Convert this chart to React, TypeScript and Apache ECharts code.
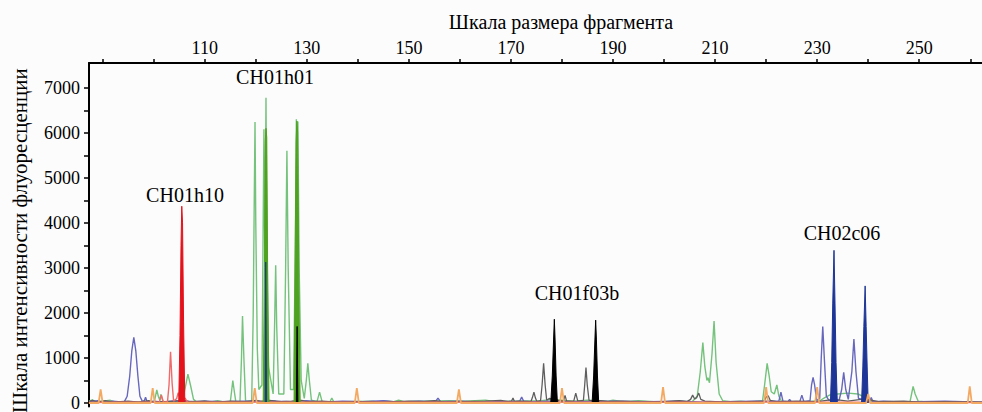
import React, { useEffect, useRef } from "react";
import * as echarts from "echarts";

type P = [number, number];

const xLabelValues = [110, 130, 150, 170, 190, 210, 230, 250];
const xTickValues = [90, 100, 110, 120, 130, 140, 150, 160, 170, 180, 190, 200, 210, 220, 230, 240, 250, 260];
const yLabelValues = [0, 1000, 2000, 3000, 4000, 5000, 6000, 7000];
const yTickValues = [0, 500, 1000, 1500, 2000, 2500, 3000, 3500, 4000, 4500, 5000, 5500, 6000, 6500, 7000];

const markerLabels = ["CH01h10", "CH01h01", "CH01f03b", "CH02c06"];

const greenTrace: P[] = [
  [87.3, 40], [88, 70], [88.6, 20], [90, 40], [91.5, 60], [92.5, 20], [94, 30], [99, 30],
  [100.1, 20], [100.4, 180], [100.6, 290], [100.9, 150], [101.2, 60], [101.4, 190], [101.8, 40],
  [102.5, 20], [104, 30], [105.6, 40], [106.2, 350], [106.7, 640], [107.2, 400], [107.8, 80], [108.4, 20],
  [110, 40], [111, 20], [112.5, 50], [113.5, 30],
  [115.0, 20], [115.3, 300], [115.5, 500], [115.8, 250], [116.1, 20],
  [116.9, 20], [117.2, 1000], [117.4, 1930], [117.7, 900], [118.0, 40],
  [119.2, 40], [119.5, 2000], [119.7, 4500], [119.85, 6240], [120.0, 4000], [120.3, 1200], [120.6, 300],
  [121.2, 400], [121.45, 4000], [121.6, 6080], [121.75, 3500], [121.9, 5000], [122.0, 6780], [122.15, 4000], [122.5, 800],
  [123.4, 200], [123.7, 1800], [123.9, 3060], [124.1, 1700], [124.5, 200],
  [125.5, 200], [125.85, 3000], [126.1, 5600], [126.35, 3000], [126.8, 300],
  [127.4, 300], [127.75, 3500], [127.95, 6300], [128.1, 5600], [128.25, 6250], [128.5, 3000], [128.9, 500],
  [129.5, 100], [129.9, 500], [130.2, 880], [130.5, 500], [130.9, 60],
  [132.0, 30], [132.5, 240], [133.0, 30], [134.5, 20], [134.9, 110], [135.3, 20],
  [137, 30], [143, 40], [144, 20], [145, 50], [147, 30], [148, 60], [149, 30], [152, 40], [158, 50],
  [161, 40], [165, 60], [167, 30], [170, 40], [176, 50], [178, 80], [180, 60], [182, 40], [185, 60],
  [189, 40], [190, 60], [192, 30], [195, 50], [198, 30], [200, 20], [203, 40],
  [205.5, 30], [206.5, 150], [207.1, 700], [207.6, 1340], [208.0, 800], [208.4, 500], [208.6, 560], [208.9, 450],
  [209.4, 1100], [209.8, 1820], [210.2, 900], [210.8, 200], [211.5, 50],
  [213, 30], [215, 40], [217, 20],
  [219.3, 50], [219.7, 400], [220.2, 880], [220.6, 600], [221.0, 250], [221.6, 200], [222.1, 400], [222.5, 150], [223, 40],
  [225, 20], [228, 30], [230.5, 50], [231.5, 120], [232.5, 180], [234, 200], [236, 220], [238, 200], [239.5, 120], [240.5, 40],
  [243, 20], [246, 30], [248.2, 30], [248.5, 200], [248.8, 370], [249.2, 200], [249.8, 40],
  [252, 20], [256, 30], [262.3, 20],
];

const greenFilled: P[][] = [
  [[121.45, 0], [121.7, 3000], [121.85, 5800], [122.0, 6100], [122.15, 5900], [122.35, 2500], [122.6, 0]],
  [[127.5, 0], [127.7, 3000], [127.9, 5800], [128.05, 6260], [128.2, 6000], [128.45, 2500], [128.7, 0]],
];

const redTrace: P[] = [
  [87.3, 10], [95, 20], [101.1, 20], [101.5, 180], [101.9, 20], [102.7, 30], [103.0, 400], [103.3, 1140],
  [103.6, 450], [103.9, 40], [104.5, 100], [104.8, 230], [105.0, 150], [106.2, 100], [106.6, 20], [115, 20],
  [121.8, 20], [121.95, 2000], [122.1, 20], [127.9, 20], [128.1, 620], [128.3, 20], [140, 20],
  [178.2, 20], [178.5, 290], [178.8, 20], [186.3, 20], [186.6, 290], [186.9, 20], [200, 20],
  [239.3, 20], [239.6, 350], [239.9, 20], [262.3, 10],
];

const redFilled: P[][] = [
  [[104.9, 0], [105.15, 1500], [105.35, 3500], [105.5, 4370], [105.65, 4000], [105.85, 1800], [106.1, 0]],
];

const blackTrace: P[] = [
  [87.3, 30], [88, 60], [89, 20], [90.5, 50], [92, 20], [95, 40], [97, 20], [99, 50], [100, 20], [104, 40],
  [106, 60], [107, 30], [110, 40], [112, 20], [115, 40], [118, 30], [120, 60], [121, 40], [123, 50], [125, 30],
  [127, 40], [129, 60], [130, 30], [133, 40], [136, 20], [140, 30], [145, 20], [150, 40], [153, 30], [155, 50],
  [157, 20], [160, 30], [165, 40], [168, 60], [169.5, 30], [170.1, 40], [170.4, 110], [170.7, 30], [171.5, 40],
  [173.9, 30], [174.2, 120], [174.5, 240], [174.8, 110], [175.1, 30], [175.8, 50], [176.1, 400], [176.4, 880],
  [176.7, 400], [177.0, 60], [177.5, 100], [179.3, 60], [180.3, 40], [180.6, 170], [180.9, 40], [182.3, 40],
  [182.7, 220], [183.1, 40], [184.2, 60], [184.45, 400], [184.7, 790], [184.95, 400], [185.3, 60],
  [187.6, 50], [189, 30], [192, 40], [195, 20], [200, 30], [203, 50], [204.5, 30], [205.2, 80], [205.6, 175],
  [206.0, 90], [206.4, 120], [206.8, 220], [207.2, 80], [208, 40], [212, 20], [216, 30], [219.6, 40],
  [220.0, 130], [220.4, 160], [220.8, 60], [222, 30], [226, 40], [230, 30], [233.3, 80], [236, 40],
  [239.4, 90], [242, 30], [247, 40], [250, 20], [255, 30], [262.3, 20],
];

const blackFilled: P[][] = [
  [[127.95, 0], [128.1, 1700], [128.25, 0]],
  [[177.8, 0], [178.1, 600], [178.35, 1400], [178.5, 1860], [178.65, 1400], [178.85, 600], [179.1, 0]],
  [[185.9, 0], [186.2, 600], [186.45, 1400], [186.6, 1840], [186.75, 1400], [186.95, 600], [187.2, 0]],
];

const blueTrace: P[] = [
  [87.3, 30], [89, 50], [90, 20], [92, 40], [94.2, 20], [94.8, 150], [95.3, 600], [95.7, 1150], [96.1, 1460],
  [96.5, 1150], [96.9, 600], [97.3, 150], [97.8, 30], [98.2, 60], [98.4, 130], [98.7, 30], [100, 40],
  [102, 20], [104, 50], [108, 30], [110, 40], [114, 30], [118, 40], [121.5, 30], [122.3, 60], [124, 40],
  [127, 30], [130, 50], [133, 20], [137, 40], [141, 30], [145, 50], [148, 20], [152, 40], [155.2, 30],
  [155.7, 110], [156.2, 30], [160, 40], [164, 20], [168, 30], [171.7, 40], [172.1, 130], [172.5, 40],
  [174, 30], [178, 40], [182, 30], [190, 40], [197, 30], [203, 40], [208, 20], [212, 30], [218, 40],
  [222.5, 40], [222.9, 240], [223.3, 40], [224.3, 30], [224.6, 80], [224.9, 30], [226.6, 30], [227.0, 175],
  [227.4, 30], [228.6, 50], [228.9, 400], [229.2, 570], [229.5, 400], [229.9, 60], [230.5, 100], [230.8, 1000],
  [231.1, 1700], [231.4, 1000], [231.8, 150], [232.3, 60], [234.3, 60], [234.8, 300], [235.2, 680],
  [235.6, 300], [236.1, 80], [236.8, 700], [237.2, 1420], [237.6, 700], [238.1, 100], [240.3, 40],
  [240.6, 120], [240.9, 30], [243, 40], [247, 20], [250, 30], [255, 40], [262.3, 20],
];

const blueFilled: P[][] = [
  [[121.85, 0], [121.95, 3130], [122.1, 0]],
  [[232.6, 0], [232.85, 900], [233.05, 2200], [233.3, 3390], [233.5, 2200], [233.7, 900], [233.95, 0]],
  [[238.7, 0], [238.95, 800], [239.15, 1700], [239.4, 2600], [239.6, 1700], [239.8, 800], [240.0, 0]],
];

const orangeTrace: P[] = [
  [87.3, 0], [89.2, 0], [89.6, 300], [90.0, 0], [99.4, 0], [99.8, 330], [100.2, 0], [119.4, 0], [119.8, 330],
  [120.2, 0], [139.4, 0], [139.8, 330], [140.2, 0], [159.4, 0], [159.8, 300], [160.2, 0], [179.6, 0],
  [180.0, 330], [180.4, 0], [199.4, 0], [199.8, 350], [200.2, 0], [219.6, 0], [220.0, 350], [220.4, 0],
  [229.6, 0], [230.0, 350], [230.4, 0], [239.6, 0], [240.0, 200], [240.4, 0], [259.5, 0], [259.9, 370],
  [260.3, 0], [262.3, 0],
];

const SERIF = "Liberation Serif";

function lineSeries(data: P[], color: string, width: number, z: number) {
  return { type: "line", data, symbol: "none", z, lineStyle: { color, width }, silent: true };
}

function filledSeries(peaks: P[][], color: string, z: number) {
  return peaks.map((d) => ({
    type: "line",
    data: d,
    symbol: "none",
    z,
    lineStyle: { color, width: 1 },
    areaStyle: { color, opacity: 1, origin: 0 },
    silent: true,
  }));
}

function centeredText(text: string, x: number, y: number, size: number) {
  return {
    type: "text",
    x,
    y,
    style: { text, fontFamily: SERIF, fontSize: size, fill: "#000", align: "center", verticalAlign: "middle" },
  };
}

export default function App() {
  const ref = useRef<HTMLDivElement>(null);
  useEffect(() => {
    if (!ref.current) return;
    const chart = echarts.init(ref.current, undefined, { renderer: "svg" });
    const labelFont = { fontFamily: SERIF, fontSize: 18, color: "#000" };
    const option: any = {
      animation: false,
      grid: { left: 89, top: 63, right: 0, bottom: 0, containLabel: false },
      xAxis: {
        type: "value",
        position: "top",
        min: 87.32,
        max: 262.3,
        axisLine: { show: true, onZero: false, lineStyle: { color: "#000", width: 2 } },
        axisTick: { show: true, inside: false, length: 4, customValues: xTickValues, lineStyle: { color: "#000", width: 1.5 } },
        axisLabel: { show: true, customValues: xLabelValues, margin: 6, formatter: (v: number) => String(v), ...labelFont },
        splitLine: { show: false },
      },
      yAxis: {
        type: "value",
        min: -80,
        max: 7550,
        axisLine: { show: true, onZero: false, lineStyle: { color: "#000", width: 2 } },
        axisTick: { show: true, inside: false, length: 5, customValues: yTickValues, lineStyle: { color: "#000", width: 1.5 } },
        axisLabel: { show: true, customValues: yLabelValues, margin: 9, formatter: (v: number) => String(v), ...labelFont },
        splitLine: { show: false },
      },
      graphic: [
        centeredText("Шкала размера фрагмента", 561, 22, 20),
        {
          type: "text",
          x: 9,
          y: 413,
          rotation: Math.PI / 2,
          style: { text: "Шкала интенсивности флуоресценции", fontFamily: SERIF, fontSize: 21, fill: "#000" },
        },
        centeredText(markerLabels[0], 185, 195, 20),
        centeredText(markerLabels[1], 275, 77, 20),
        centeredText(markerLabels[2], 577, 293, 20),
        centeredText(markerLabels[3], 842, 233, 20),
      ],
      series: [
        lineSeries(greenTrace, "#74c27c", 1.4, 2),
        lineSeries(blueTrace, "#6767be", 1.4, 3),
        lineSeries(blackTrace, "#5e5e5e", 1.3, 3),
        lineSeries(redTrace, "#ee6b6b", 1.4, 4),
        ...filledSeries(greenFilled, "#4fa21f", 5),
        ...filledSeries(redFilled, "#e3121b", 5),
        ...filledSeries(blackFilled, "#000000", 6),
        ...filledSeries(blueFilled, "#1d3596", 6),
        lineSeries(orangeTrace, "#f3a962", 1.8, 7),
      ],
    };
    chart.setOption(option);
    return () => chart.dispose();
  }, []);
  return (
    <div
      ref={ref}
      style={{ position: "fixed", left: 0, top: 0, width: 982, height: 412, background: "#fcfcfc" }}
    />
  );
}
